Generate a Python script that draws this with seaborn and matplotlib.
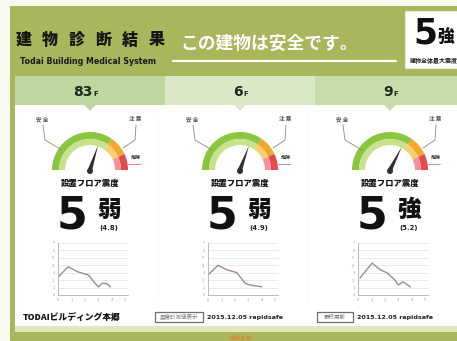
import matplotlib
matplotlib.use("Agg")
import matplotlib.pyplot as plt
from matplotlib.patches import Rectangle, Wedge, Polygon, Circle
import numpy as np
import pandas as pd
import seaborn as sns

# ---- data -------------------------------------------------------------
floor_nums = ["83", "6", "9"]
intensity = [4.8, 4.9, 5.2]
shindo_num = ["5", "5", "5"]
shindo_grade = ["弱", "弱", "強"]
intensity_labels = ["(4.8)", "(4.9)", "(5.2)"]
max_shindo_num = "5"
max_shindo_grade = "強"

t83 = [0, 0.75, 1.5, 2.25, 2.75, 3.0, 3.3, 3.65, 3.9]
v83 = [2.4, 3.8, 3.1, 2.7, 1.6, 1.1, 1.6, 1.5, 1.1]
t6 = [0, 0.75, 1.4, 2.15, 2.75, 3.1, 3.65, 4.0]
v6 = [2.7, 4.0, 3.4, 3.0, 1.6, 1.35, 1.2, 1.1]
t9 = [0.15, 1.05, 1.65, 2.15, 2.75, 3.0, 3.35, 3.9]
v9 = [2.3, 4.3, 3.4, 3.0, 2.0, 1.35, 1.75, 1.1]
series_t = [t83, t6, t9]
series_v = [v83, v6, v9]
x_ticks = [0, 1, 2, 3, 4, 5]
y_ticks = [0, 1, 2, 3, 4, 5, 6, 7]

title_text = "建物診断結果"
subtitle_text = "Todai Building Medical System"
status_text = "この建物は安全です。"
max_caption = "建物全体最大震度"
floor_caption = "設置フロア震度"
building_name = "TODAIビルディング本郷"
box_labels = ["震度計測値表示", "最終更新"]
update_text = "2015.12.05 rapidsafe"
footer_text = "東京大学"

# ---- style ------------------------------------------------------------
sns.set_theme(style="white")
plt.rcParams["font.family"] = ["Noto Sans CJK JP", "DejaVu Sans"]

W, H = 457, 341
OLIVE = "#a9b65c"
fig = plt.figure(figsize=(W / 100, H / 100), dpi=100, facecolor=OLIVE)
ax = fig.add_axes([0, 0, 1, 1])
ax.set_xlim(0, W)
ax.set_ylim(H, 0)
ax.axis("off")

def rect(x, y, w, h, **kw):
    ax.add_patch(Rectangle((x, y), w, h, **kw))

# outer frame
rect(0, 0, W, 6, color="#f7f8ee", lw=0)
rect(0, 0, 10, H, color="#f7f8ee", lw=0)

# header title block
pitch = 26.6
for i, ch in enumerate(title_text):
    ax.text(23.5 + pitch * i, 40, ch, ha="center", va="center",
            fontsize=11.5, fontweight="black", color="#151515")
ax.text(20, 62, subtitle_text, ha="left", va="center", fontsize=5.7,
        fontweight="bold", color="#1a1a1a", family="DejaVu Sans")
ax.text(180, 44, status_text, ha="left", va="center", fontsize=12.8,
        fontweight="bold", color="white")
ax.plot([173, 396], [61, 61], color="white", lw=1.6, solid_capstyle="round")

# max intensity box
rect(405, 11, 60, 57, facecolor="white", edgecolor="#e8ead8", lw=0.8)
ax.text(425, 33, max_shindo_num, ha="center", va="center", fontsize=25,
        fontweight="bold", color="#111111", family="DejaVu Sans")
ax.text(437, 37, max_shindo_grade, ha="left", va="center", fontsize=12,
        fontweight="black", color="#111111")
ax.text(410, 60, max_caption, ha="left", va="center", fontsize=4.3,
        fontweight="bold", color="#222222")

# main white panel
rect(15, 104, W - 15, 222, color="white", lw=0)
rect(15, 326, W - 15, 6, color="#e2e8bd", lw=0)

# column headers
header_cols = ["#bdd79e", "#dbe8c6", "#c7dcab"]
header_x = [15, 165, 315]
header_w = [150, 150, W - 315]
centers = [90, 240, 390]
for i in range(3):
    rect(header_x[i], 76, header_w[i], 29, color=header_cols[i], lw=0)
    cx = centers[i]
    ax.add_patch(Polygon([[cx - 6, 104.5], [cx + 6, 104.5], [cx, 111]],
                         closed=True, color=header_cols[i], lw=0))
    ax.text(cx + 3, 92, floor_nums[i], ha="right", va="center",
            fontsize=10, fontweight="bold", color="#1f2a1a",
            family="DejaVu Sans")
    ax.text(cx + 3.5, 94, "F", ha="left", va="center", fontsize=5,
            fontweight="bold", color="#1f2a1a", family="DejaVu Sans")

# faint column separators
for sx in [158, 308]:
    ax.plot([sx, sx], [115, 300], color="#e3e3e3", lw=0.6, ls=(0, (1, 2)))

# gauges
G_MAX = 8.0
R_OUT, R_MID, R_IN = 38, 31, 25
segments = [(55, 180, "#8cc63f", "#c8e18d"),
            (25, 55, "#f0a830", "#f6d06c"),
            (0, 25, "#e34b4f", "#f29397")]

def screen_wedge(c, r, a1, a2, width, color):
    # y axis points down, so screen angles are mirrored
    ax.add_patch(Wedge(c, r, -a2, -a1, width=width, color=color, lw=0))

for i, cx in enumerate(centers):
    cy = 170
    for a1, a2, outer, inner in segments:
        screen_wedge((cx, cy), R_OUT, a1, a2, R_OUT - R_MID, outer)
        screen_wedge((cx, cy), R_MID, a1, a2, R_MID - R_IN, inner)

    # leader lines and labels
    ax.plot([cx - 47, cx - 45, cx - 28], [125, 140, 150], color="#8a8a8a", lw=0.6)
    ax.plot([cx + 46, cx + 45, cx + 33], [125, 140, 148], color="#8a8a8a", lw=0.6)
    ax.text(cx - 48, 119.5, "安 全", ha="center", va="center", fontsize=4,
            fontweight="bold", color="#555555")
    ax.text(cx + 45, 119.5, "注 意", ha="center", va="center", fontsize=4,
            fontweight="bold", color="#555555")
    ax.text(cx + 41, 157, "危険", ha="left", va="center", fontsize=3.6,
            fontweight="bold", color="#333333")
    ax.plot([cx + 38, cx + 50], [164, 164], color="#e36a6e", lw=0.6)

    # needle
    ang = np.deg2rad(180 * (1 - intensity[i] / G_MAX))
    ux, uy = np.cos(ang), -np.sin(ang)
    px, py = -uy, ux
    tip = (cx + 26 * ux, cy + 26 * uy)
    base_l = (cx + 2.2 * px, cy + 2.2 * py)
    base_r = (cx - 2.2 * px, cy - 2.2 * py)
    ax.add_patch(Polygon([tip, base_l, base_r], closed=True,
                         color="#2f2f2f", lw=0))
    ax.add_patch(Circle((cx, cy + 1), 3.0, color="#2f2f2f", lw=0))

    # intensity readout
    ax.text(cx, 183, floor_caption, ha="center", va="center", fontsize=6,
            fontweight="black", color="#111111")
    ax.text(cx - 18, 216, shindo_num[i], ha="center", va="center",
            fontsize=32, fontweight="heavy", color="#111111",
            family="DejaVu Sans")
    ax.text(cx + 19, 210, shindo_grade[i], ha="center", va="center",
            fontsize=17, fontweight="black", color="#111111")
    ax.text(cx + 19, 228, intensity_labels[i], ha="center", va="center",
            fontsize=5, fontweight="bold", color="#222222",
            family="DejaVu Sans")

# small time-history charts
for i, cx in enumerate(centers):
    left = cx - 32
    sub = fig.add_axes([left / W, (H - 295) / H, 70 / W, 52 / H])
    df = pd.DataFrame({"t": series_t[i], "v": series_v[i]})
    sns.lineplot(data=df, x="t", y="v", ax=sub, color="#9e8c88", lw=1.0)
    sub.set_xlim(0, 5.2)
    sub.set_ylim(0, 7)
    sub.set_xticks(x_ticks)
    sub.set_yticks(y_ticks)
    sub.set_xticklabels([str(v) for v in x_ticks])
    sub.set_yticklabels([str(v) for v in y_ticks])
    sub.tick_params(axis="both", labelsize=2.8, colors="#9a9a9a",
                    length=1.5, width=0.5, pad=1)
    sub.grid(axis="y", color="#e2e2e2", lw=0.5)
    sub.set_xlabel("")
    sub.set_ylabel("")
    sub.patch.set_alpha(0)
    for side in ["top", "right"]:
        sub.spines[side].set_visible(False)
    for side in ["left", "bottom"]:
        sub.spines[side].set_color("#b0b0b0")
        sub.spines[side].set_linewidth(0.6)

# footer
ax.text(23, 317, building_name, ha="left", va="center", fontsize=6.3,
        fontweight="black", color="#151515")
box_x = [155, 317]
box_w = [48, 36]
text_x = [207, 357]
for i in range(2):
    rect(box_x[i], 312, box_w[i], 10, facecolor="white", edgecolor="#6f6f6f", lw=0.9)
    ax.text(box_x[i] + box_w[i] / 2, 317, box_labels[i], ha="center",
            va="center", fontsize=4, color="#777777")
    ax.text(text_x[i], 317, update_text, ha="left", va="center",
            fontsize=4.6, fontweight="bold", color="#222222",
            family="DejaVu Sans")
ax.text(241, 337, footer_text, ha="center", va="center", fontsize=4,
        color="#e08a2c", fontweight="bold")

fig.savefig("out.png", dpi=100, facecolor=OLIVE)
